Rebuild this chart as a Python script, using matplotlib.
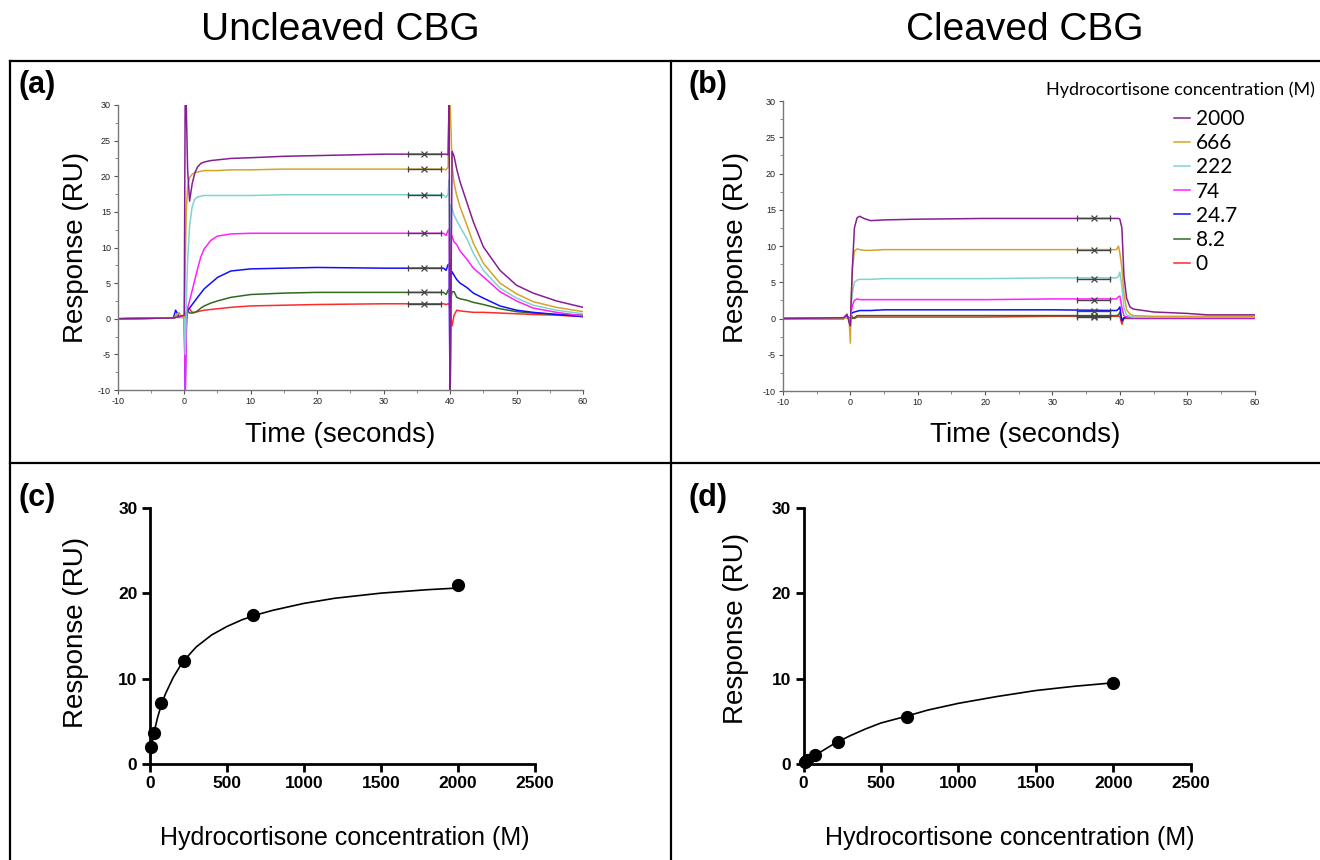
import matplotlib
matplotlib.use("Agg")
import matplotlib.pyplot as plt
from matplotlib.lines import Line2D
from matplotlib.ticker import MultipleLocator

plt.rcParams['font.family'] = ['Liberation Sans', 'DejaVu Sans']
plt.rcParams['axes.unicode_minus'] = False

# concentrations (M) and colours of the sensorgram traces
conc_labels = ['2000', '666', '222', '74', '24.7', '8.2', '0']
colors = ['#861f93', '#d4a42a', '#7fd3d3', '#ff20ff', '#1010ff', '#2f6b1f', '#ff2a2a']

# (a) uncleaved CBG sensorgrams
t_a = [-10, -2.0, -1.6, -1.3, -0.8, -0.4, 0.0, 0.15, 0.3, 0.5, 0.8, 1.2, 1.6, 2.0,
       2.5, 3.0, 4.0, 5.0, 7.0, 10, 15, 20, 30, 39.0, 39.4, 39.7, 39.85, 40.0,
       40.15, 40.3, 40.6, 41, 41.5, 42.5, 43.5, 45, 47.5, 50, 52.5, 56, 60]
a_2000 = [0, 0.1, 0.1, 0.2, 0.3, 0.4, 0.5, 34, 30, 21, 16.5, 19.0, 20.5, 21.3,
          21.8, 22.0, 22.2, 22.3, 22.5, 22.6, 22.8, 22.9, 23.1, 23.1, 23.1, 23.0, 31, -12,
          5, 23.5, 22.8, 21.0, 19.2, 16.4, 13.6, 10.1, 6.8, 4.7, 3.6, 2.5, 1.6]
a_666 = [0, 0.1, 0.1, 0.4, 0.9, 0.3, 0.2, 8, 15, 18.5, 19.8, 20.3, 20.5, 20.6,
         20.7, 20.8, 20.8, 20.8, 20.9, 20.9, 21.0, 21.0, 21.0, 21.0, 20.9, 21.3, 31, 31,
         26, 21.5, 19.0, 17.3, 15.7, 13.2, 10.6, 7.8, 5.0, 3.5, 2.4, 1.6, 1.0]
a_222 = [0, 0.1, 0.1, 0.2, 0.3, 0.2, 0.2, -5, 2, 8, 13, 15.8, 16.8, 17.1,
         17.2, 17.3, 17.3, 17.3, 17.3, 17.3, 17.4, 17.4, 17.4, 17.4, 17.0, 17.5, 19.5, -12,
         16, 15.5, 14.5, 13.8, 12.9, 11.3, 9.2, 6.8, 4.3, 2.9, 1.9, 1.2, 0.7]
a_74 = [0, 0.1, 0.1, 0.2, 0.3, 0.2, 0.2, -10.5, -2, 1.5, 2.5, 4.0, 5.5, 7.0,
        8.7, 9.8, 11.0, 11.6, 11.9, 12.0, 12.0, 12.0, 12.0, 12.0, 11.7, 12.4, 12.6, -12,
        12, 11.5, 10.8, 10.4, 9.5, 8.4, 7.1, 5.9, 3.8, 2.5, 1.5, 0.9, 0.4]
a_24 = [0, 0.1, 0.2, 1.2, 0.3, 0.2, 0.2, -10.5, 0.0, 1.0, 1.5, 2.0, 2.5, 3.0,
        3.6, 4.2, 5.0, 5.8, 6.7, 7.0, 7.1, 7.2, 7.1, 7.1, 6.8, 7.6, 7.7, -12,
        6, 6.6, 6.1, 5.5, 5.0, 4.4, 3.6, 2.9, 1.8, 1.2, 0.9, 0.6, 0.3]
a_8 = [0, 0.1, 0.1, 0.2, 0.2, 0.2, 0.2, 0.3, 0.8, 1.2, 0.8, 0.8, 0.9, 1.1,
       1.5, 1.8, 2.2, 2.5, 3.0, 3.4, 3.6, 3.7, 3.7, 3.7, 3.4, 4.0, 4.2, 2.0,
       3.0, 3.8, 3.8, 3.0, 2.8, 2.6, 2.3, 2.0, 1.4, 1.0, 0.8, 0.6, 0.5]
a_0 = [0, 0.1, 0.1, 0.2, 0.2, 0.2, 0.2, 0.5, 1.0, 1.5, 1.4, 0.9, 0.9, 1.0,
       1.1, 1.2, 1.3, 1.4, 1.6, 1.8, 1.9, 2.0, 2.1, 2.1, 2.0, 2.1, 2.1, 1.0,
       0.0, -1.0, 0.5, 1.2, 1.1, 1.0, 0.9, 0.9, 0.8, 0.7, 0.6, 0.5, 0.3]

# (b) cleaved CBG sensorgrams
t_b = [-10, -1.0, -0.5, -0.2, 0.0, 0.1, 0.3, 0.6, 1.0, 1.4, 2.0, 3.0, 5.0, 10,
       20, 30, 39.5, 39.8, 40.0, 40.3, 40.6, 41.0, 41.5, 42.0, 45, 50, 53, 60]
b_2000 = [0, 0.1, 0.6, -0.5, -1.0, 2.0, 7.0, 12.5, 13.9, 14.1, 13.8, 13.5, 13.6, 13.7,
          13.8, 13.8, 13.8, 13.8, 13.7, 12.5, 6.0, 2.8, 1.6, 1.3, 0.9, 0.7, 0.5, 0.5]
b_666 = [0, 0.0, 0.1, 0.0, -3.4, 2.0, 7.0, 9.3, 9.6, 9.5, 9.4, 9.4, 9.5, 9.5,
         9.5, 9.5, 9.5, 10.0, 9.0, 7.0, 3.5, 1.2, 0.6, 0.4, 0.3, 0.3, 0.3, 0.3]
b_222 = [0, 0.0, 0.1, 0.0, -1.2, 1.5, 3.5, 5.0, 5.3, 5.4, 5.4, 5.4, 5.5, 5.5,
         5.5, 5.6, 5.6, 5.8, 6.4, 4.5, 1.5, 0.5, 0.3, 0.2, 0.2, 0.2, 0.2, 0.2]
b_74 = [0, 0.0, 0.2, 0.0, -0.8, 0.8, 1.8, 2.5, 2.7, 2.6, 2.6, 2.6, 2.6, 2.6,
        2.6, 2.7, 2.7, 3.0, 3.1, 1.5, 0.4, 0.2, 0.1, 0.1, 0.1, 0.1, 0.1, 0.1]
b_24 = [0, 0.0, 0.3, 0.1, -0.3, 0.6, 0.8, 0.9, 1.0, 1.1, 1.1, 1.1, 1.2, 1.2,
        1.2, 1.2, 1.1, 1.3, 1.6, -0.3, 0.1, 0.2, 0.1, 0.1, 0.1, 0.1, 0.1, 0.1]
b_8 = [0, 0.0, 0.2, 0.0, -0.3, 0.5, 0.0, 0.1, 0.4, 0.4, 0.4, 0.4, 0.4, 0.4,
       0.4, 0.4, 0.4, 0.5, 0.9, -0.4, 0.1, 0.1, 0.1, 0.1, 0.1, 0.1, 0.1, 0.1]
b_0 = [0, 0.0, 0.3, 0.0, -0.3, 0.5, 0.2, 0.0, 0.2, 0.2, 0.2, 0.2, 0.2, 0.2,
       0.2, 0.3, 0.3, 0.3, 0.3, -0.8, 0.0, 0.0, 0.0, 0.0, 0.0, 0.0, 0.0, 0.0]

# report points (|--x--|) near the end of association
report_t = [33.6, 36.1, 38.6]
report_a = [23.1, 21.0, 17.4, 12.0, 7.1, 3.7, 2.1]
report_b = [13.8, 9.5, 5.5, 2.6, 1.1, 0.4, 0.25]

# (c), (d) steady-state binding
conc = [8.2, 24.7, 74, 222, 666, 2000]
resp_c = [2.0, 3.6, 7.1, 12.0, 17.4, 21.0]
resp_d = [0.2, 0.45, 1.0, 2.6, 5.5, 9.5]
fit_x_c = [0, 10, 25, 50, 75, 100, 150, 200, 250, 300, 400, 500, 600, 700, 800,
           1000, 1200, 1500, 1800, 2000]
fit_y_c = [0.3, 2.0, 3.6, 5.5, 7.0, 8.2, 10.1, 11.6, 12.7, 13.7, 15.1, 16.1, 16.9,
           17.5, 18.0, 18.8, 19.4, 20.0, 20.4, 20.6]
fit_x_d = [0, 100, 200, 300, 400, 500, 666, 800, 1000, 1250, 1500, 1750, 2000]
fit_y_d = [0.0, 1.3, 2.4, 3.3, 4.1, 4.8, 5.6, 6.3, 7.1, 7.9, 8.6, 9.1, 9.5]

W, H = 1320, 860
fig = plt.figure(figsize=(W / 100, H / 100), dpi=100)


def rect(x0, y0, x1, y1):
    # pixel box -> figure fraction
    return [x0 / W, 1 - y1 / H, (x1 - x0) / W, (y1 - y0) / H]


def sensorgram(ax, t, curves, report):
    handles = []
    for ys, c, lab in reversed(list(zip(curves, colors, conc_labels))):
        h, = ax.plot(t, ys, color=c, lw=1.1, label=lab)
        handles.append(h)
    for lvl in report:
        ax.plot([report_t[0], report_t[2]], [lvl, lvl], color='#444444', lw=1.0)
        ax.plot([report_t[0], report_t[2]], [lvl, lvl], ls='none', marker='|',
                ms=5, mew=0.9, color='#444444')
        ax.plot([report_t[1]], [lvl], ls='none', marker='x', ms=4, mew=0.9,
                color='#444444')
    ax.set_xlim(-10, 60)
    ax.set_ylim(-10, 30)
    ax.xaxis.set_major_locator(MultipleLocator(10))
    ax.xaxis.set_minor_locator(MultipleLocator(5))
    ax.yaxis.set_major_locator(MultipleLocator(5))
    ax.yaxis.set_minor_locator(MultipleLocator(2.5))
    for s in ['top', 'right']:
        ax.spines[s].set_visible(False)
    for s in ['left', 'bottom']:
        ax.spines[s].set_color('#777777')
        ax.spines[s].set_linewidth(1.0)
    ax.tick_params(which='major', length=3, width=0.8, color='#555555',
                   labelsize=6.5, labelcolor='#222222', pad=2)
    ax.tick_params(which='minor', length=2, width=0.6, color='#777777')
    return handles[::-1]


def binding(ax, resp, fx, fy):
    ax.plot(fx, fy, color='black', lw=1.2)
    ax.plot(conc, resp, ls='none', marker='o', ms=8.5, color='black', clip_on=False,
            zorder=5)
    ax.set_xlim(0, 2500)
    ax.set_ylim(0, 30)
    ax.set_xticks([0, 500, 1000, 1500, 2000, 2500])
    ax.set_yticks([0, 10, 20, 30])
    for s in ['top', 'right']:
        ax.spines[s].set_visible(False)
    for s in ['left', 'bottom']:
        ax.spines[s].set_linewidth(2.0)
    ax.tick_params(length=6, width=2, labelsize=12.5, pad=3)
    for lab in ax.get_xticklabels() + ax.get_yticklabels():
        lab.set_fontweight('bold')


ax_a = fig.add_axes(rect(117.8, 105, 583, 390))
sensorgram(ax_a, t_a, [a_2000, a_666, a_222, a_74, a_24, a_8, a_0], report_a)

ax_b = fig.add_axes(rect(783, 101, 1254.6, 391))
hb = sensorgram(ax_b, t_b, [b_2000, b_666, b_222, b_74, b_24, b_8, b_0], report_b)

ax_c = fig.add_axes(rect(150, 507.7, 535, 764))
binding(ax_c, resp_c, fit_x_c, fit_y_c)

ax_d = fig.add_axes(rect(803.5, 507.7, 1190.7, 764))
binding(ax_d, resp_d, fit_x_d, fit_y_d)

# legend for (b)
leg = fig.legend(handles=hb, loc='upper left', bbox_to_anchor=(1174 / W, 1 - 109 / H),
                 frameon=False, handlelength=0.75, handletextpad=0.3,
                 labelspacing=0.2, borderpad=0, borderaxespad=0,
                 prop={'family': ['Lato', 'DejaVu Sans'], 'size': 15})
fig.text(1315 / W, 1 - 90 / H, 'Hydrocortisone concentration (M)', ha='right',
         va='center', family=['Lato', 'DejaVu Sans'], fontsize=13)

# titles, panel letters, axis labels
fig.text(340 / W, 1 - 30 / H, 'Uncleaved CBG', ha='center', va='center', fontsize=28)
fig.text(1025 / W, 1 - 30 / H, 'Cleaved CBG', ha='center', va='center', fontsize=28)
for lab, x, y in [('(a)', 19, 85), ('(b)', 689, 85), ('(c)', 19, 498), ('(d)', 689, 498)]:
    fig.text(x / W, 1 - y / H, lab, ha='left', va='center', fontsize=22,
             fontweight='bold')
for x, y in [(76, 247), (736, 247), (76, 632), (736, 628)]:
    fig.text(x / W, 1 - y / H, 'Response (RU)', ha='center', va='center',
             rotation=90, fontsize=20)
fig.text(340 / W, 1 - 435 / H, 'Time (seconds)', ha='center', va='center', fontsize=20)
fig.text(1025 / W, 1 - 435 / H, 'Time (seconds)', ha='center', va='center', fontsize=20)
fig.text(345 / W, 1 - 838 / H, 'Hydrocortisone concentration (M)', ha='center',
         va='center', fontsize=18)
fig.text(1010 / W, 1 - 838 / H, 'Hydrocortisone concentration (M)', ha='center',
         va='center', fontsize=18)

# panel frame lines
for xs, ys in [([10, W], [61, 61]), ([10, W], [463, 463]),
               ([10, 10], [61, H]), ([671, 671], [61, H])]:
    fig.add_artist(Line2D([x / W for x in xs], [1 - y / H for y in ys],
                          color='black', lw=1.6))

fig.savefig('out.png', dpi=100)
